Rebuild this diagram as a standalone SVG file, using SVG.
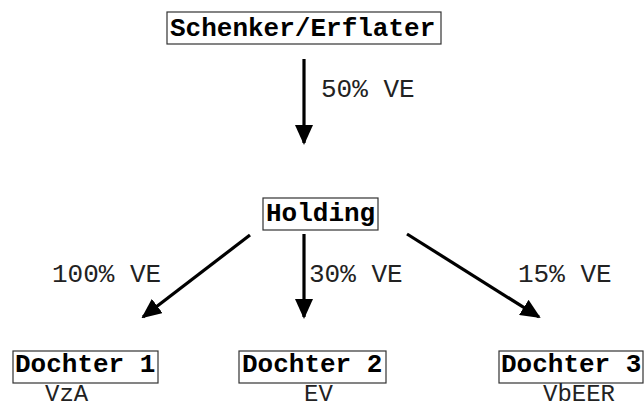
<svg xmlns="http://www.w3.org/2000/svg" width="644" height="408" viewBox="0 0 644 408">
<style>
.box{fill:#fff;stroke:#333;stroke-width:1.2}
.name{font-family:"Liberation Mono","Courier New",monospace;font-weight:bold;font-size:26px;fill:#000}
.lbl{font-family:"Liberation Mono","Courier New",monospace;font-size:26px;fill:#222}
.sub{font-family:"Liberation Mono","Courier New",monospace;font-size:24px;fill:#222}
.edge{stroke:#000;stroke-width:3.2;fill:none;marker-end:url(#ah)}
</style>
<defs>
<marker id="ah" viewBox="0 0 20 18" refX="18" refY="9" markerWidth="20" markerHeight="18" markerUnits="userSpaceOnUse" orient="auto">
<path d="M0,0 L20,9 L0,18 Z" fill="#000"/>
</marker>
</defs>
<rect width="644" height="408" fill="#fff"/>
<g id="connectors">
<line class="edge" x1="304" y1="59" x2="304" y2="143"/>
<line class="edge" x1="250" y1="235" x2="143" y2="317"/>
<line class="edge" x1="304" y1="234" x2="304" y2="317"/>
<line class="edge" x1="407" y1="234" x2="539" y2="317"/>
<text class="lbl" x="321" y="97">50% VE</text>
<text class="lbl" x="52" y="282">100% VE</text>
<text class="lbl" x="309" y="282">30% VE</text>
<text class="lbl" x="518" y="282">15% VE</text>
</g>
<g id="schenker">
<rect class="box" x="167" y="12" width="274" height="32"/>
<text class="name" x="170" y="36">Schenker/Erflater</text>
</g>
<g id="holding">
<rect class="box" x="263" y="198" width="115" height="32"/>
<text class="name" x="266" y="221">Holding</text>
</g>
<g id="dochter1">
<rect class="box" x="13" y="351" width="145" height="32"/>
<text class="name" x="15" y="372">Dochter 1</text>
<text class="sub" x="45" y="400.5">VzA</text>
</g>
<g id="dochter2">
<rect class="box" x="239" y="351" width="147" height="32"/>
<text class="name" x="242" y="372">Dochter 2</text>
<text class="sub" x="304" y="400.5">EV</text>
</g>
<g id="dochter3">
<rect class="box" x="499" y="351" width="144" height="32"/>
<text class="name" x="501" y="372">Dochter 3</text>
<text class="sub" x="543" y="400.5">VbEER</text>
</g>
</svg>
